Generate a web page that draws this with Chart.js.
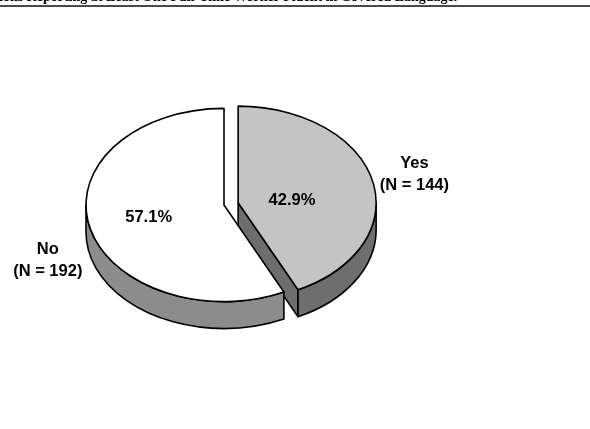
<!DOCTYPE html>
<html>
<head>
<meta charset="utf-8">
<script src="https://cdn.jsdelivr.net/npm/chart.js@4.4.1/dist/chart.umd.min.js"></script>
<style>
  html, body { margin: 0; padding: 0; background: #fff; }
  #wrap { position: relative; width: 590px; height: 429px; overflow: hidden; background: #fff; }
  #chart { position: absolute; left: 0; top: 0; }
  #title {
    position: absolute; left: -1px; top: -10px;
    font: bold 14px "Liberation Serif", "Times New Roman", serif;
    line-height: 14px; white-space: nowrap; color: #000;
  }
  #rule { position: absolute; left: 0; top: 5px; width: 590px; height: 2px; background: #4a4a4a; }
</style>
</head>
<body>
<div id="wrap">
  <canvas id="chart" width="590" height="429"></canvas>
  <div id="title">ions Reporting at Least One Full-Time Worker Fluent in Covered Language.</div>
  <div id="rule"></div>
</div>
<script>
// Answers and number of organizations giving each answer
const categories = ['Yes', 'No'];
const counts = [144, 192];

const total = counts.reduce((a, b) => a + b, 0);
const percentLabels = counts.map(v => (v / total * 100).toFixed(1) + '%');
const nameLabels = categories.map((c, i) => [c, '(N = ' + counts[i] + ')']);

// Draws the pie as a tilted disc with a visible rim; the slice geometry
// (centre, radius, start/end angles) comes from Chart.js' arc elements.
const pie3d = {
  id: 'pie3d',
  slices(chart) {
    const o = chart.options.plugins.pie3d;
    return chart.getDatasetMeta(0).data.map((arc, i) => {
      const p = arc.getProps(['x', 'y', 'startAngle', 'endAngle', 'outerRadius'], true);
      const h = (p.startAngle + p.endAngle) / 2;
      const e = o.explode[i] || 0;
      return {
        arc, i, x: p.x, y: p.y, start: p.startAngle, end: p.endAngle, R: p.outerRadius, h,
        cx: p.x + Math.cos(h) * e,
        cy: p.y + Math.sin(h) * e * o.tilt
      };
    });
  },
  beforeDatasetsDraw(chart) {
    const ctx = chart.ctx;
    const o = chart.options.plugins.pie3d;
    const tilt = o.tilt, depth = o.depth;
    const slices = this.slices(chart);
    const pt = (s, a) => [s.cx + s.R * Math.cos(a), s.cy + s.R * tilt * Math.sin(a)];

    // side walls, back slices first
    const order = slices.slice().sort((a, b) => Math.sin(a.h) - Math.sin(b.h));
    for (const s of order) {
      ctx.save();
      ctx.fillStyle = o.sideColors[s.i];
      ctx.strokeStyle = o.lineColor;
      ctx.lineWidth = o.lineWidth;
      ctx.lineJoin = 'round';
      // cut faces turned toward the viewer
      const faces = [];
      if (Math.cos(s.start) < -1e-6) faces.push(s.start);
      if (Math.cos(s.end) > 1e-6) faces.push(s.end);
      for (const a of faces) {
        const [px, py] = pt(s, a);
        ctx.beginPath();
        ctx.moveTo(s.cx, s.cy);
        ctx.lineTo(px, py);
        ctx.lineTo(px, py + depth);
        ctx.lineTo(s.cx, s.cy + depth);
        ctx.closePath();
        ctx.fill();
        ctx.stroke();
      }
      // outer rim on the front half of the disc
      for (let k = -1; k <= 1; k++) {
        const lo = Math.max(s.start, 2 * Math.PI * k);
        const hi = Math.min(s.end, 2 * Math.PI * k + Math.PI);
        if (hi - lo <= 1e-6) continue;
        const ry = s.R * tilt;
        const [hx, hy] = pt(s, hi);
        ctx.beginPath();
        ctx.ellipse(s.cx, s.cy, s.R, ry, 0, lo, hi, false);
        ctx.lineTo(hx, hy + depth);
        ctx.ellipse(s.cx, s.cy + depth, s.R, ry, 0, hi, lo, true);
        ctx.closePath();
        ctx.fill();
        ctx.stroke();
      }
      ctx.restore();
    }

    // top faces
    for (const s of slices) {
      ctx.save();
      ctx.translate(s.cx, s.cy);
      ctx.scale(1, tilt);
      ctx.translate(-s.x, -s.y);
      s.arc.draw(ctx);
      ctx.restore();

      ctx.save();
      ctx.strokeStyle = o.lineColor;
      ctx.lineWidth = o.lineWidth;
      ctx.lineJoin = 'round';
      const [sx, sy] = pt(s, s.start);
      ctx.beginPath();
      ctx.moveTo(s.cx, s.cy);
      ctx.lineTo(sx, sy);
      ctx.ellipse(s.cx, s.cy, s.R, s.R * tilt, 0, s.start, s.end, false);
      ctx.closePath();
      ctx.stroke();
      ctx.restore();
    }
    // the disc is fully drawn here, so skip the flat default pie
    return false;
  },
  afterDraw(chart) {
    const ctx = chart.ctx;
    const o = chart.options.plugins.pie3d;
    const tilt = o.tilt;
    const slices = this.slices(chart);
    ctx.save();
    ctx.fillStyle = '#000';
    ctx.font = o.font;
    ctx.textAlign = 'center';
    ctx.textBaseline = 'middle';
    for (const s of slices) {
      const c = Math.cos(s.h), n = Math.sin(s.h);
      // value inside the slice
      const k = o.percentRadius[s.i];
      ctx.fillText(percentLabels[s.i],
        s.cx + s.R * k * c,
        s.cy + s.R * tilt * k * n + o.percentNudge[s.i]);
      // category name outside the slice
      const lx = s.cx + s.R * o.labelRadius * c;
      const ly = s.cy + s.R * tilt * o.labelRadius * n + (n > 0 ? o.depth : 0);
      const lines = nameLabels[s.i];
      lines.forEach((t, j) => {
        ctx.fillText(t, lx, ly + (j - (lines.length - 1) / 2) * o.lineHeight);
      });
    }
    ctx.restore();
  }
};

new Chart(document.getElementById('chart'), {
  type: 'pie',
  data: {
    labels: categories,
    datasets: [{
      data: counts,
      backgroundColor: ['#c4c4c4', '#ffffff'],
      borderWidth: 0,
      radius: 138
    }]
  },
  options: {
    responsive: false,
    animation: false,
    events: [],
    rotation: 0,
    layout: { padding: { left: 0, right: 142, top: 0, bottom: 19 } },
    plugins: {
      legend: { display: false },
      tooltip: { enabled: false },
      pie3d: {
        tilt: 0.70,
        depth: 27,
        explode: [14.5, 0],
        sideColors: ['#6e6e6e', '#8c8c8c'],
        lineColor: '#000',
        lineWidth: 1.6,
        font: 'bold 16.5px "Liberation Sans", Arial, sans-serif',
        lineHeight: 22,
        percentRadius: [0.40, 0.56],
        percentNudge: [6.5, 0],
        labelRadius: 1.31
      }
    }
  },
  plugins: [pie3d]
});
</script>
</body>
</html>
